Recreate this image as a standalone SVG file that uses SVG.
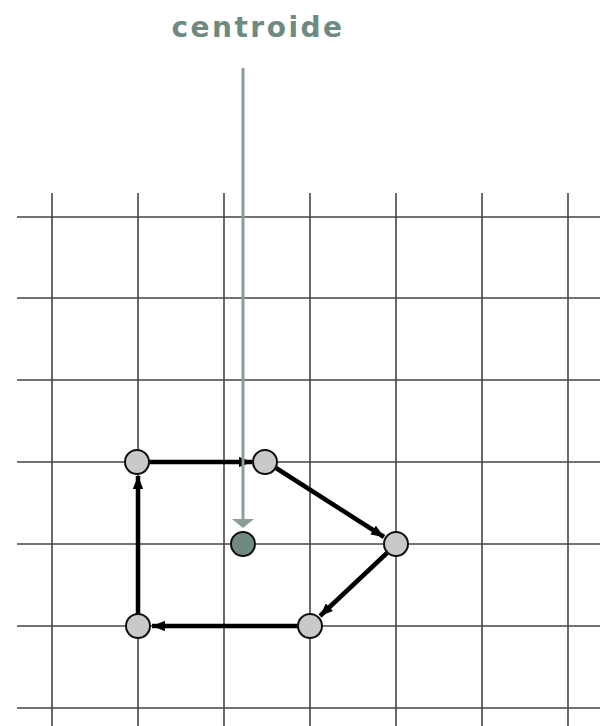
<svg xmlns="http://www.w3.org/2000/svg" width="600" height="726" viewBox="0 0 600 726">
<style>
.grid line{stroke:#444;stroke-width:1.6}
.edge{stroke:#000;stroke-width:4.5;fill:none;marker-end:url(#ah)}
.node{fill:#c8c9cb;stroke:#111;stroke-width:2}
.lbl{font-family:"DejaVu Sans","Liberation Sans",sans-serif;font-weight:bold;font-size:28px;fill:#6f8a80;letter-spacing:2.5px}
</style>
<defs>
<marker id="ah" viewBox="0 0 10 8" refX="10" refY="4" markerWidth="3" markerHeight="2.3" orient="auto" markerUnits="strokeWidth">
<path d="M0,0 L10,4 L0,8 z" fill="#000"/>
</marker>
</defs>
<rect width="600" height="726" fill="#fff"/>
<g class="grid">
<line x1="52" y1="193" x2="52" y2="726"/>
<line x1="138" y1="193" x2="138" y2="726"/>
<line x1="224" y1="193" x2="224" y2="726"/>
<line x1="310" y1="193" x2="310" y2="726"/>
<line x1="396" y1="193" x2="396" y2="726"/>
<line x1="482" y1="193" x2="482" y2="726"/>
<line x1="568" y1="193" x2="568" y2="726"/>
<line x1="17" y1="217" x2="600" y2="217"/>
<line x1="17" y1="298" x2="600" y2="298"/>
<line x1="17" y1="380" x2="600" y2="380"/>
<line x1="17" y1="462" x2="600" y2="462"/>
<line x1="17" y1="544" x2="600" y2="544"/>
<line x1="17" y1="626" x2="600" y2="626"/>
<line x1="17" y1="708" x2="600" y2="708"/>
</g>
<g id="connectors">
<line class="edge" x1="149" y1="462" x2="252" y2="462"/>
<line class="edge" x1="276" y1="468" x2="384" y2="537"/>
<line class="edge" x1="387" y1="553" x2="320" y2="616"/>
<line class="edge" x1="298" y1="626" x2="152" y2="626"/>
<line class="edge" x1="138" y1="614" x2="138" y2="476"/>
<line x1="243" y1="68" x2="243" y2="520" stroke="#8a9d96" stroke-width="3"/>
<path d="M232,519 L254,519 L243,528 z" fill="#8a9d96"/>
</g>
<g id="label"><text class="lbl" x="258" y="37" text-anchor="middle">centroide</text></g>
<g id="n1"><circle class="node" cx="137" cy="462" r="12"/></g>
<g id="n2"><circle class="node" cx="265" cy="462" r="12"/></g>
<g id="n3"><circle class="node" cx="396" cy="544" r="12"/></g>
<g id="n4"><circle class="node" cx="310" cy="626" r="12"/></g>
<g id="n5"><circle class="node" cx="138" cy="626" r="12"/></g>
<g id="centroid"><circle cx="243" cy="544" r="12" fill="#6f8a80" stroke="#111" stroke-width="2"/></g>
</svg>
